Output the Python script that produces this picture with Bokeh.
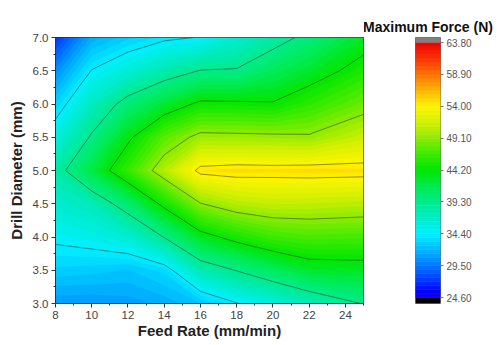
import numpy as np
from bokeh.plotting import figure
from bokeh.layouts import row
from bokeh.models import FixedTicker, NumeralTickFormatter, Range1d
from bokeh.embed import file_html
from bokeh.resources import INLINE

# ---------------- data ----------------
feed_rate = [8, 10, 12, 14, 16, 18, 20, 22, 25]          # mm/min (grid columns)
drill_diameter = [3.0, 3.5, 4.0, 4.5, 5.0, 5.5, 6.0, 6.5, 7.0]  # mm (grid rows)

force_d30 = [30.8, 30.8, 31.0, 31.5, 32.5, 34.3, 35.8, 37.3, 39.4]
force_d35 = [33.0, 32.8, 32.5, 33.4, 37.7, 39.4, 41.1, 42.8, 43.1]
force_d40 = [34.8, 35.3, 36.3, 39.4, 43.2, 45.1, 46.5, 47.0, 46.8]
force_d45 = [36.5, 37.5, 40.6, 44.9, 49.0, 50.5, 51.0, 50.9, 50.6]
force_d50 = [38.2, 42.2, 46.3, 50.5, 54.6, 54.9, 54.8, 54.9, 54.8]
force_d55 = [35.8, 39.6, 43.7, 47.5, 49.8, 49.7, 49.6, 49.4, 51.3]
force_d60 = [33.2, 37.2, 40.3, 42.6, 44.7, 44.6, 44.4, 45.9, 48.1]
force_d65 = [30.3, 34.5, 36.2, 37.9, 39.4, 39.5, 41.3, 42.8, 45.3]
force_d70 = [27.0, 31.5, 33.0, 34.0, 34.5, 36.5, 38.2, 40.0, 43.0]

line_levels = [34.4, 39.3, 44.2, 49.1, 54.0]
cbar_ticks = [24.6, 29.5, 34.4, 39.3, 44.2, 49.1, 54.0, 58.9, 63.8]
x_ticks = [8, 10, 12, 14, 16, 18, 20, 22, 24]
x_minor = [9, 11, 13, 15, 17, 19, 21, 23, 25]
y_ticks = [3.0, 3.5, 4.0, 4.5, 5.0, 5.5, 6.0, 6.5, 7.0]
y_minor = [3.25, 3.75, 4.25, 4.75, 5.25, 5.75, 6.25, 6.75]

z = np.array([force_d30, force_d35, force_d40, force_d45, force_d50,
              force_d55, force_d60, force_d65, force_d70])

# ---------------- colour map (style) ----------------
vmin, vmax = 24.6, 63.8
n_bands = 64
step = (vmax - vmin) / n_bands
fill_levels = [vmin + i * step for i in range(n_bands + 1)]
under_levels = [vmin - step / 2 + i * step for i in range(n_bands + 2)]
anchor_v = [24.6, 25.5, 27.0, 29.5, 32.0, 34.4, 36.8, 39.3, 41.7, 44.2,
            46.6, 49.1, 51.5, 54.0, 56.5, 58.9, 61.3, 63.8]
anchor_rgb = [(20, 0, 240), (0, 0, 255), (0, 50, 255), (0, 120, 255), (0, 185, 255),
              (0, 240, 255), (0, 235, 200), (0, 235, 140), (0, 235, 80), (0, 230, 0),
              (60, 235, 0), (140, 235, 0), (210, 240, 0), (255, 245, 0), (255, 180, 0),
              (255, 115, 0), (250, 50, 0), (235, 0, 0)]
ar = np.array(anchor_rgb, dtype=float)


def cmap(vals):
    out = []
    for m in vals:
        r = int(round(np.interp(m, anchor_v, ar[:, 0])))
        g = int(round(np.interp(m, anchor_v, ar[:, 1])))
        b = int(round(np.interp(m, anchor_v, ar[:, 2])))
        out.append("#%02x%02x%02x" % (r, g, b))
    return out


palette = cmap([(fill_levels[i] + fill_levels[i + 1]) / 2 for i in range(n_bands)])
under_palette = cmap([(under_levels[i] + under_levels[i + 1]) / 2 for i in range(n_bands + 1)])

FONT = "Liberation Sans"

# ---------------- main contour plot ----------------
p = figure(width=364, height=342, x_range=Range1d(8, 25), y_range=Range1d(3, 7),
           output_backend="svg", toolbar_location=None,
           min_border_left=55, min_border_right=1, min_border_top=37, min_border_bottom=39)

# underlay with half-step shifted bands hides anti-alias seams of the main bands
p.contour(x=feed_rate, y=drill_diameter, z=z, levels=under_levels,
          fill_color=under_palette, line_color=None)
p.contour(x=feed_rate, y=drill_diameter, z=z, levels=fill_levels,
          fill_color=palette, line_color=None)
p.contour(x=feed_rate, y=drill_diameter, z=z, levels=line_levels,
          line_color="#1a241a", line_alpha=0.6, line_width=0.8)

p.xgrid.visible = False
p.ygrid.visible = False
p.outline_line_color = "#222222"
p.outline_line_width = 1
p.background_fill_color = "white"
p.border_fill_color = "white"

p.xaxis.ticker = FixedTicker(ticks=x_ticks, minor_ticks=x_minor)
p.yaxis.ticker = FixedTicker(ticks=y_ticks, minor_ticks=y_minor)
p.yaxis.formatter = NumeralTickFormatter(format="0.0")
p.xaxis.axis_label = "Feed Rate (mm/min)"
p.yaxis.axis_label = "Drill Diameter (mm)"
for ax in (p.xaxis, p.yaxis):
    ax.axis_label_text_font = FONT
    ax.axis_label_text_font_style = "bold"
    ax.axis_label_text_font_size = "15px"
    ax.axis_label_text_color = "#222222"
    ax.major_label_text_font = FONT
    ax.major_label_text_font_size = "11.5px"
    ax.major_label_text_color = "#444444"
    ax.axis_line_color = "#333333"
    ax.major_tick_line_color = "#333333"
    ax.minor_tick_line_color = "#333333"
    ax.major_tick_out = 4
    ax.major_tick_in = 0
    ax.minor_tick_out = 2
    ax.minor_tick_in = 0
    ax.major_label_standoff = 3
p.xaxis.axis_label_standoff = 0
p.yaxis.axis_label_standoff = 5

# ---------------- colour bar ----------------
cb = figure(width=137, height=342, x_range=Range1d(0, 1), y_range=Range1d(23.68, 64.57),
            output_backend="svg", toolbar_location=None, y_axis_location="right",
            min_border_left=51, min_border_right=61, min_border_top=37, min_border_bottom=39,
            title="Maximum Force (N)")
cb.quad(left=0, right=1, bottom=fill_levels[:-1], top=fill_levels[1:],
        fill_color=palette, line_color=palette, line_width=0.6)
cb.quad(left=[0], right=[1], bottom=[23.68], top=[vmin], fill_color="black", line_color=None)
cb.quad(left=[0], right=[1], bottom=[vmax], top=[64.57], fill_color="#808080", line_color=None)
cb.xaxis.visible = False
cb.xgrid.visible = False
cb.ygrid.visible = False
cb.outline_line_color = "#707070"
cb.outline_line_width = 1
cb.yaxis.ticker = FixedTicker(ticks=cbar_ticks, minor_ticks=[])
cb.yaxis.formatter = NumeralTickFormatter(format="0.00")
cb.yaxis.axis_line_color = None
cb.yaxis.major_tick_line_color = "#777777"
cb.yaxis.major_tick_out = 3
cb.yaxis.major_tick_in = 0
cb.yaxis.major_label_standoff = 3
cb.yaxis.major_label_text_font = FONT
cb.yaxis.major_label_text_font_size = "10px"
cb.yaxis.major_label_text_color = "#555555"
cb.title.align = "center"
cb.title.text_font = FONT
cb.title.text_font_style = "bold"
cb.title.text_font_size = "14px"
cb.title.text_color = "#111111"
cb.title.standoff = 6

layout = row(p, cb)
open("out.html", "w").write(file_html(layout, INLINE))
